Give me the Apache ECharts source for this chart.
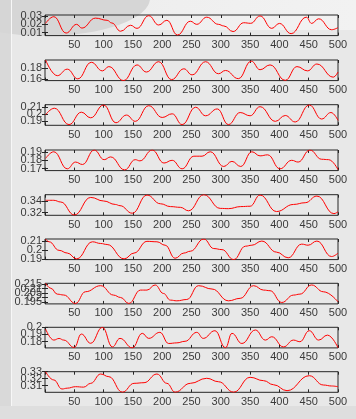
<!DOCTYPE html>
<html><head><meta charset="utf-8">
<script src="https://cdn.jsdelivr.net/npm/echarts@6/dist/echarts.min.js"></script>
<style>
html,body{margin:0;padding:0;width:356px;height:419px;overflow:hidden;background:#dedede;}
#panel{position:absolute;left:12px;top:0;width:344px;height:406px;background:#e8e8e8;}
#strip{position:absolute;left:0;top:0;width:11px;height:406px;background:#d9d9d9;}
#line{position:absolute;left:11px;top:0;width:1px;height:406px;background:#f7f7f7;}
#blob{position:absolute;left:-60px;top:-40px;width:210px;height:76px;border-radius:50%;background:#d6d6d6;}
#light{position:absolute;left:120px;top:0;width:236px;height:30px;background:linear-gradient(90deg,#eeeeee,#f2f2f2);}
#chart{position:absolute;left:0;top:0;width:356px;height:419px;}
</style></head><body>
<div id="strip"></div><div id="panel"></div><div id="light"></div><div id="blob"></div><div id="line"></div>
<div id="chart"></div>
<script>
// ---- data ----
const xTickLabels = [50,100,150,200,250,300,350,400,450,500];

const s1x = [1,15,36,54,63,86,106,114,129,146,157,177,194,208,226,248,259,276,296,305,321,339,351,367,387,400,420,446,455,467,489,500];
const s1y = [0.021,0.029,0.0095,0.0199,0.0154,0.0273,0.0247,0.0215,0.0117,0.0188,0.0151,0.0302,0.0191,0.0247,0.0072,0.0236,0.0199,0.0284,0.0199,0.018,0.0113,0.0218,0.0211,0.0299,0.0151,0.021,0.0088,0.0284,0.021,0.0265,0.0135,0.016];
const s1ticks = [0.01,0.02,0.03];

const s2x = [1,21,38,56,79,98,109,134,157,173,194,216,237,251,274,296,308,330,352,367,384,410,430,448,464,492,500];
const s2y = [0.194,0.1666,0.178,0.161,0.190,0.175,0.1825,0.158,0.1854,0.173,0.191,0.1597,0.1786,0.168,0.191,0.170,0.1757,0.1614,0.192,0.177,0.1854,0.1585,0.1825,0.175,0.187,0.164,0.173];
const s2ticks = [0.16,0.18];

const s3x = [1,16,41,62,78,100,121,139,154,177,200,217,234,257,274,294,313,333,350,367,393,410,427,451,472,488,500];
const s3y = [0.1993,0.2086,0.1854,0.203,0.195,0.2132,0.188,0.1989,0.190,0.2122,0.1955,0.2007,0.1854,0.21,0.1979,0.2076,0.1854,0.2025,0.1979,0.2108,0.190,0.1983,0.1891,0.2132,0.1933,0.2025,0.1914];
const s3ticks = [0.19,0.2,0.21];

const s4x = [1,15,38,52,64,84,101,112,136,154,162,183,203,217,234,254,268,282,305,319,334,353,367,380,401,421,432,452,472,484,500];
const s4y = [0.1824,0.1908,0.1696,0.178,0.175,0.193,0.181,0.1844,0.1683,0.181,0.1795,0.193,0.1768,0.1802,0.1696,0.1853,0.1853,0.1908,0.1725,0.1789,0.1725,0.1908,0.1857,0.187,0.1696,0.1802,0.178,0.193,0.1815,0.181,0.1687];
const s4ticks = [0.17,0.18,0.19];

const s5x = [1,15,27,50,78,100,120,128,149,174,197,214,231,245,271,299,313,334,350,367,395,424,444,464,493,500];
const s5y = [0.3413,0.3413,0.3383,0.3158,0.3463,0.3401,0.3341,0.332,0.3189,0.3504,0.3353,0.3304,0.3291,0.3231,0.351,0.3273,0.3268,0.3304,0.331,0.3504,0.3218,0.3341,0.3371,0.3486,0.3182,0.3215];
const s5ticks = [0.32,0.34];

const s6x = [1,7,24,38,54,81,95,106,135,152,174,191,205,222,237,248,271,288,302,322,342,353,370,395,415,438,449,464,489,500];
const s6y = [0.2126,0.2095,0.2,0.197,0.1905,0.2095,0.2076,0.2065,0.1905,0.197,0.21,0.2095,0.2057,0.1912,0.197,0.199,0.2126,0.202,0.2008,0.1897,0.2046,0.2057,0.2103,0.198,0.1917,0.2069,0.2057,0.2103,0.1931,0.197];
const s6ticks = [0.19,0.2,0.21];

const s7x = [1,10,21,32,52,69,95,117,129,143,163,174,188,202,214,225,242,262,285,313,333,356,373,384,404,424,435,455,475,500];
const s7y = [0.2161,0.2104,0.2038,0.2028,0.1932,0.2065,0.2134,0.2027,0.2,0.1932,0.2084,0.2084,0.2142,0.2046,0.197,0.1962,0.1977,0.2134,0.2096,0.1962,0.199,0.2134,0.2084,0.2077,0.1943,0.2027,0.2038,0.2142,0.2065,0.195];
const s7ticks = [0.195,0.2,0.205,0.21,0.215];

const s8x = [1,15,24,32,50,62,78,98,115,128,149,166,177,196,211,225,239,259,270,290,308,319,336,359,376,387,407,424,435,451,467,482,500];
const s8y = [0.1976,0.182,0.1843,0.182,0.1716,0.1905,0.1775,0.2,0.1724,0.1844,0.171,0.1915,0.1844,0.1929,0.1772,0.1781,0.1803,0.1929,0.1844,0.1952,0.1712,0.1915,0.1772,0.1962,0.182,0.1867,0.1724,0.182,0.1797,0.1952,0.182,0.189,0.1712];
const s8ticks = [0.18,0.19,0.2];

const s9x = [1,15,29,38,52,66,78,95,109,132,152,169,191,208,222,248,276,296,322,350,373,390,413,451,475,489,500];
const s9y = [0.33,0.3182,0.3053,0.3065,0.3086,0.308,0.3134,0.3267,0.3229,0.3008,0.3134,0.3143,0.3267,0.3134,0.3008,0.3134,0.3206,0.3157,0.3008,0.322,0.3172,0.3114,0.3029,0.3243,0.311,0.3096,0.3086];
const s9ticks = [0.31,0.32,0.33];

const ranges = [
  [0.0065,0.031],[0.158,0.194],[0.1844,0.2136],[0.1674,0.193],[0.3153,0.351],
  [0.1897,0.2126],[0.1927,0.2161],[0.171,0.2],[0.3006,0.33]
];
// ---- layout / build ----
const seriesX = [s1x,s2x,s3x,s4x,s5x,s6x,s7x,s8x,s9x];
const seriesY = [s1y,s2y,s3y,s4y,s5y,s6y,s7y,s8y,s9y];
const yTicks = [s1ticks,s2ticks,s3ticks,s4ticks,s5ticks,s6ticks,s7ticks,s8ticks,s9ticks];
const tops = [15,60,104.7,150,194.7,239,283.3,327.3,371.7];
const H = 20.6;
const axisCol = '#262626';
const txtCol = '#3a3a3a';
const font = 'Liberation Sans, Arial, Helvetica, sans-serif';

// pad first/last so ECharts' min/max overlap fix only drops the duplicates
const padEnds = arr => [arr[0]].concat(arr, [arr[arr.length-1]]);

const grids=[], xAxes=[], yAxes=[], series=[];
for (let i=0;i<9;i++){
  grids.push({left:45, width:293, top:tops[i], height:H, show:true, borderColor:axisCol, borderWidth:1, backgroundColor:'transparent', containLabel:false, outerBoundsMode:'none'});
  xAxes.push({type:'value', gridIndex:i, min:0, max:500, interval:50, position:'bottom',
    axisLine:{show:false}, splitLine:{show:false},
    axisTick:{show:true, inside:true, length:3, lineStyle:{color:axisCol}},
    axisLabel:{show:true, color:txtCol, fontSize:11, fontFamily:font, margin:4, hideOverlap:false,
      formatter:v=> xTickLabels.indexOf(v)>=0 ? String(v) : ''}});
  xAxes.push({type:'value', gridIndex:i, min:0, max:500, interval:50, position:'top',
    axisLine:{show:false}, splitLine:{show:false},
    axisTick:{show:true, inside:true, length:3, lineStyle:{color:axisCol}},
    axisLabel:{show:false}});
  const yt = yTicks[i].length > 2 ? padEnds(yTicks[i]) : yTicks[i];
  yAxes.push({type:'value', gridIndex:i, min:ranges[i][0], max:ranges[i][1], position:'left',
    axisLine:{show:false}, splitLine:{show:false},
    axisTick:{show:true, inside:true, length:3, lineStyle:{color:axisCol}, customValues:yt},
    axisLabel:{show:true, color:txtCol, fontSize:11, fontFamily:font, margin:3, hideOverlap:false,
      showMinLabel:true, showMaxLabel:true,
      customValues:yt, formatter:v=>String(+v.toFixed(4))}});
  yAxes.push({type:'value', gridIndex:i, min:ranges[i][0], max:ranges[i][1], position:'right',
    axisLine:{show:false}, splitLine:{show:false},
    axisTick:{show:true, inside:true, length:3, lineStyle:{color:axisCol}, customValues:yTicks[i]},
    axisLabel:{show:false}});
  const data = seriesX[i].map((x,k)=>[x, seriesY[i][k]]);
  series.push({type:'line', xAxisIndex:2*i, yAxisIndex:2*i, data:data, smooth:0.45, smoothMonotone:'x',
    showSymbol:false, symbol:'none', lineStyle:{color:'#ff0000', width:1}, clip:true, silent:true, animation:false});
}
const chart = echarts.init(document.getElementById('chart'), null, {renderer:'canvas', width:356, height:419});
chart.setOption({animation:false, backgroundColor:'transparent', grid:grids, xAxis:xAxes, yAxis:yAxes, series:series});
</script></body></html>
